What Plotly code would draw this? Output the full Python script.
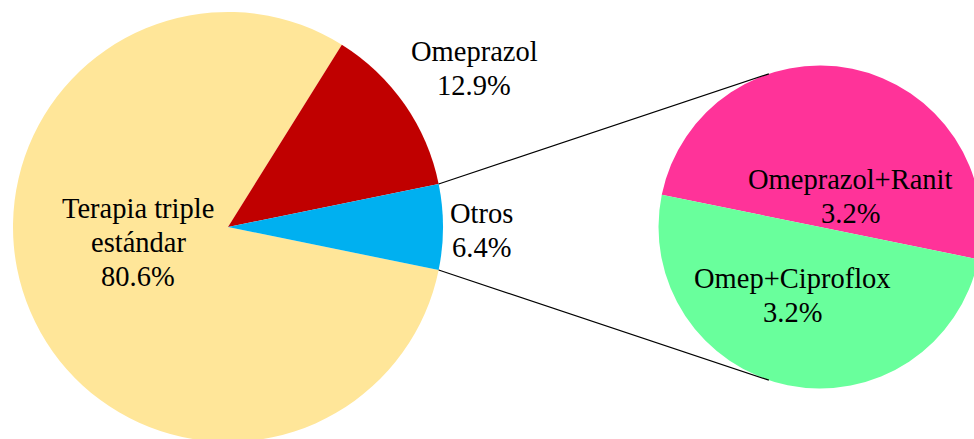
import math
import plotly.graph_objects as go

# ---- data ----
main_labels = ["Terapia triple<br>estándar", "Omeprazol", "Otros"]
main_values = [80.6, 12.9, 6.4]
sub_labels = ["Omeprazol+Ranit", "Omep+Ciproflox"]
sub_values = [3.2, 3.2]

# ---- styles ----
main_colors = ["#FFE699", "#C00000", "#00B0F0"]
sub_colors = ["#FF3399", "#69FF9C"]
FONT = dict(family="Liberation Serif, Times New Roman, serif", size=28.5, color="black")
LINE_H = 34

# ---- geometry (pixels) ----
W, H = 992, 452
MAIN_C, MAIN_R = (228.0, 227.0), 215.0
SUB_C, SUB_R = (820.0, 227.0), 161.5


def px(x):
    return x / W


def py(y):
    return 1 - y / H


def domain(c, r):
    return dict(x=[px(c[0] - r), px(c[0] + r)], y=[py(c[1] + r), py(c[1] - r)])


otros_angle = main_values[2] / sum(main_values) * 360.0

fig = go.Figure()
fig.add_trace(go.Pie(
    labels=[l.replace("<br>", " ") for l in main_labels], values=main_values,
    marker=dict(colors=main_colors, line=dict(width=0)),
    sort=False, direction="clockwise", rotation=90 + otros_angle / 2,
    textinfo="none", hoverinfo="label+percent", showlegend=False,
    domain=domain(MAIN_C, MAIN_R),
))
fig.add_trace(go.Pie(
    labels=sub_labels, values=sub_values,
    marker=dict(colors=sub_colors, line=dict(width=0)),
    sort=False, direction="clockwise", rotation=-90 + otros_angle / 2,
    textinfo="none", hoverinfo="label+value", showlegend=False,
    domain=domain(SUB_C, SUB_R),
))

# connector lines: from edges of "Otros" slice, tangent to secondary pie
half = math.radians(otros_angle / 2)
shapes = []
for sign in (-1, 1):
    P = (MAIN_C[0] + MAIN_R * math.cos(half), MAIN_C[1] + sign * MAIN_R * math.sin(half))
    dx, dy = P[0] - SUB_C[0], P[1] - SUB_C[1]
    d = math.hypot(dx, dy)
    phi = math.atan2(dy, dx)
    th = math.acos(SUB_R / d)
    a = phi - sign * th
    T = (SUB_C[0] + SUB_R * math.cos(a), SUB_C[1] + SUB_R * math.sin(a))
    shapes.append(dict(type="line", xref="paper", yref="paper",
                       x0=px(P[0]), y0=py(P[1]), x1=px(T[0]), y1=py(T[1]),
                       line=dict(color="black", width=1.2)))

label_pos = {
    main_labels[0]: (138, 242),
    main_labels[1]: (474, 69),
    main_labels[2]: (481, 231),
    sub_labels[0]: (850, 196),
    sub_labels[1]: (792, 295),
}
annotations = []
for lab, val in list(zip(main_labels, main_values)) + list(zip(sub_labels, sub_values)):
    x, y = label_pos[lab]
    lines = f"{lab}<br>{val:.1f}%".split("<br>")
    n = len(lines)
    for i, line in enumerate(lines):
        yy = y + (i - (n - 1) / 2) * LINE_H
        annotations.append(dict(text=line, x=px(x), y=py(yy),
                                xref="paper", yref="paper", xanchor="center", yanchor="middle",
                                showarrow=False, font=FONT, align="center"))

fig.update_layout(
    width=W, height=H, margin=dict(l=0, r=0, t=0, b=0),
    paper_bgcolor="white", plot_bgcolor="white",
    shapes=shapes, annotations=annotations, font=FONT,
)

fig.write_html(
    "out.html",
    config={"displayModeBar": False},
    post_script="document.body.style.margin='0';document.body.style.overflow='hidden';document.documentElement.style.overflow='hidden';",
)
